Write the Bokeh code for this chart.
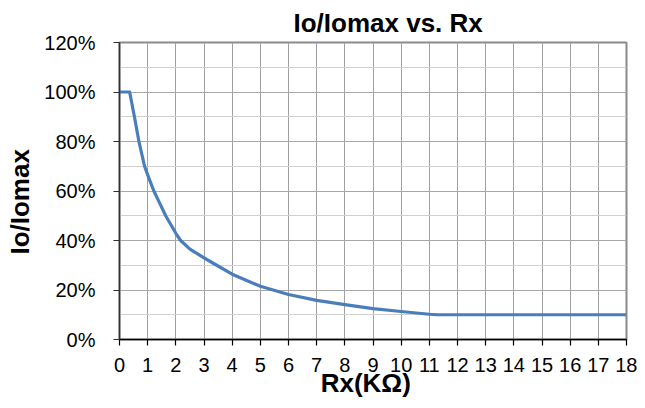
from bokeh.plotting import figure
from bokeh.models import Range1d, FixedTicker, NumeralTickFormatter
from bokeh.embed import file_html
from bokeh.resources import INLINE

# ---- data ----
rx = [0.0, 0.36, 0.53, 0.69, 0.89, 1.05, 1.22, 1.43, 1.64, 2.0, 2.17, 2.5, 3.0, 3.45,
      4.0, 5.0, 6.0, 7.0, 8.0, 9.0, 10.0, 11.0, 11.3, 12.0, 13.0, 14.0, 15.0,
      16.0, 17.0, 18.0]
io_ratio = [1.00, 1.00, 0.90, 0.80, 0.70, 0.65, 0.60, 0.55, 0.50, 0.429, 0.40, 0.365,
            0.33, 0.30, 0.264, 0.215, 0.182, 0.158, 0.141, 0.125, 0.113, 0.102, 0.10,
            0.10, 0.10, 0.10, 0.10, 0.10, 0.10, 0.10]
x_ticks = list(range(0, 19))
y_ticks = [0.0, 0.2, 0.4, 0.6, 0.8, 1.0, 1.2]
y_minor = [0.1, 0.3, 0.5, 0.7, 0.9, 1.1]

FONT = "Liberation Sans"
NB = "\u00a0"

p = figure(width=637, height=400, x_range=Range1d(0, 18), y_range=Range1d(0, 1.2),
           output_backend="svg", toolbar_location=None,
           min_border_left=119, min_border_right=11, min_border_top=42, min_border_bottom=59)

p.title.text = "Io/Iomax vs. Rx"
p.title.text_font = FONT
p.title.text_font_size = "26px"
p.title.text_font_style = "bold"
p.title.align = "left"
p.title.offset = 174
p.title.standoff = 10
p.title.text_color = "#000000"

p.line(rx, io_ratio, line_color="#4A7EBB", line_width=3.2, line_join="round")

# axes
for ax in (p.xaxis[0], p.yaxis[0]):
    ax.major_label_text_font = FONT
    ax.major_label_text_font_size = "20px"
    ax.major_label_text_color = "#000000"
    ax.axis_label_text_font = FONT
    ax.axis_label_text_font_size = "26px"
    ax.axis_label_text_font_style = "bold"
    ax.axis_label_text_color = "#000000"
    ax.major_tick_in = 0
    ax.major_tick_out = 6
    ax.minor_tick_in = 0
    ax.minor_tick_out = 0
    ax.axis_line_width = 1.5
    ax.major_tick_line_width = 1.2

p.xaxis.axis_label = "Rx(KΩ)" + NB * 2
p.xaxis.ticker = FixedTicker(ticks=x_ticks)
p.xaxis.major_label_standoff = 12
p.xaxis.axis_label_standoff = -7
p.xaxis.axis_line_color = "#000000"
p.xaxis.major_tick_line_color = "#000000"

p.yaxis.axis_label = "Io/Iomax" + NB * 3
p.yaxis.ticker = FixedTicker(ticks=y_ticks, minor_ticks=y_minor)
p.yaxis.formatter = NumeralTickFormatter(format="0%")
p.yaxis.major_label_standoff = 18
p.yaxis.axis_label_standoff = 6
p.yaxis.axis_line_color = "#303030"
p.yaxis.major_tick_line_color = "#303030"

# grid
p.xgrid.ticker = FixedTicker(ticks=x_ticks)
p.xgrid.grid_line_color = "#a0a0a0"
p.xgrid.grid_line_width = 1
p.ygrid.grid_line_color = "#a8a8a8"
p.ygrid.minor_grid_line_color = "#d0d0d0"
p.ygrid.minor_grid_line_width = 1.2
p.outline_line_color = "#8a8a8a"
p.outline_line_width = 2
p.background_fill_color = "#ffffff"
p.border_fill_color = "#ffffff"

open("out.html", "w").write(file_html(p, INLINE))
